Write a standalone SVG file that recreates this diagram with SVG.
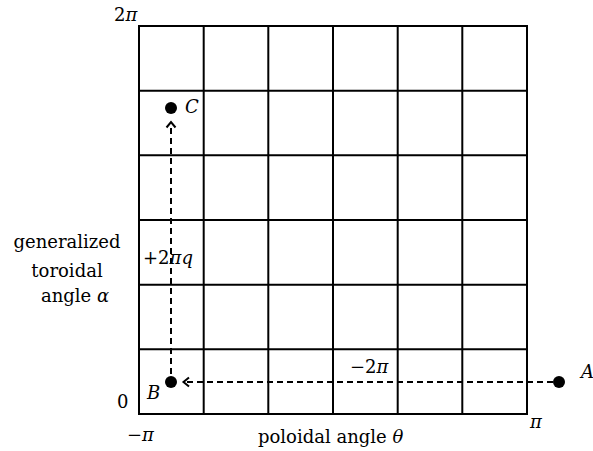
<svg xmlns="http://www.w3.org/2000/svg" width="593" height="451" viewBox="0 0 593 451">
<style>
text{font-family:"DejaVu Serif","Liberation Serif",serif;font-size:18px;fill:#000}
.it{font-style:italic}
.grid line{stroke:#000;stroke-width:2}
.dash{stroke:#000;stroke-width:2;stroke-dasharray:6,4;fill:none}
.head{stroke:#000;stroke-width:2;fill:none}
</style>
<rect width="593" height="451" fill="#fff"/>
<g id="grid" class="grid">
<line x1="139" y1="26" x2="139" y2="414"/>
<line x1="203.7" y1="26" x2="203.7" y2="414"/>
<line x1="268.3" y1="26" x2="268.3" y2="414"/>
<line x1="333" y1="26" x2="333" y2="414"/>
<line x1="397.7" y1="26" x2="397.7" y2="414"/>
<line x1="462.3" y1="26" x2="462.3" y2="414"/>
<line x1="527" y1="26" x2="527" y2="414"/>
<line x1="138" y1="26" x2="528" y2="26"/>
<line x1="138" y1="90.7" x2="528" y2="90.7"/>
<line x1="138" y1="155.3" x2="528" y2="155.3"/>
<line x1="138" y1="220" x2="528" y2="220"/>
<line x1="138" y1="284.7" x2="528" y2="284.7"/>
<line x1="138" y1="349.3" x2="528" y2="349.3"/>
<line x1="138" y1="414" x2="528" y2="414"/>
</g>
<g id="connectors">
<line class="dash" x1="553" y1="382" x2="185" y2="382"/>
<polyline class="head" points="189,377.5 183.5,382 189,386.5"/>
<line class="dash" x1="171" y1="374" x2="171" y2="124"/>
<polyline class="head" points="166.5,127.5 171,122 175.5,127.5"/>
</g>
<g id="nodeC"><circle cx="171" cy="108" r="6"/><text class="it" x="185" y="113">C</text></g>
<g id="nodeB"><circle cx="171" cy="382" r="6"/><text class="it" x="147" y="399">B</text></g>
<g id="nodeA"><circle cx="559" cy="382" r="6"/><text class="it" x="581" y="378">A</text></g>
<g id="labels">
<text x="114" y="21">2<tspan class="it">π</tspan></text>
<text x="117" y="408">0</text>
<text x="127" y="441">−<tspan class="it">π</tspan></text>
<text x="530" y="428" class="it">π</text>
<text x="258" y="443">poloidal angle <tspan class="it">θ</tspan></text>
<text x="67" y="248" text-anchor="middle">generalized</text>
<text x="67" y="277" text-anchor="middle">toroidal</text>
<text x="75" y="302" text-anchor="middle">angle <tspan class="it">α</tspan></text>
<text x="143" y="264">+2<tspan class="it">πq</tspan></text>
<text x="350" y="373">−2<tspan class="it">π</tspan></text>
</g>
</svg>
